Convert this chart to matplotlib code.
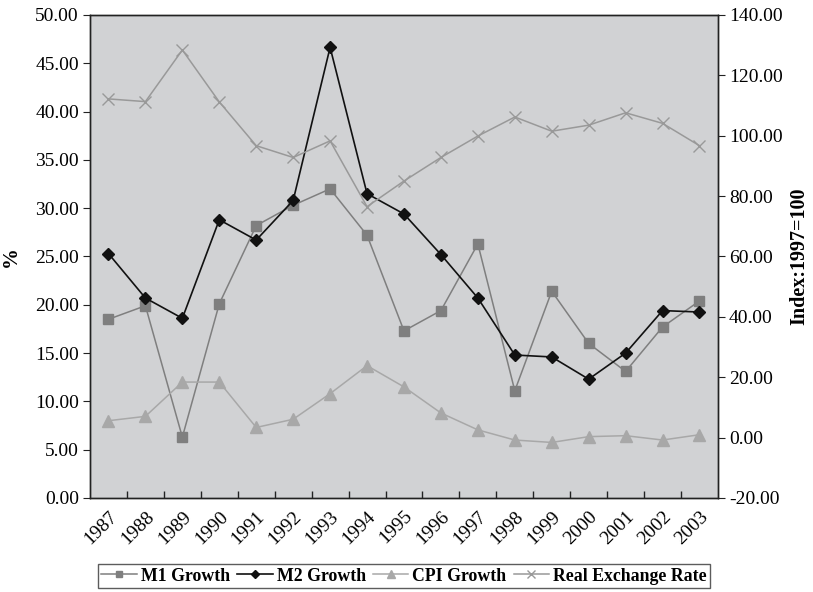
"""Money growth, inflation and real exchange rate, 1987-2003."""

import matplotlib

matplotlib.use("Agg")
import matplotlib.pyplot as plt
from matplotlib.ticker import FixedLocator, FormatStrFormatter

years = ["1987", "1988", "1989", "1990", "1991", "1992", "1993", "1994", "1995",
         "1996", "1997", "1998", "1999", "2000", "2001", "2002", "2003"]
m1_growth = [18.5, 19.9, 6.3, 20.1, 28.2, 30.3, 32.0, 27.2, 17.3,
             19.4, 26.3, 11.1, 21.4, 16.0, 13.1, 17.7, 20.4]
m2_growth = [25.3, 20.7, 18.6, 28.8, 26.7, 30.8, 46.65, 31.5, 29.4,
             25.2, 20.7, 14.8, 14.6, 12.3, 15.0, 19.4, 19.25]
cpi_growth = [8.0, 8.45, 12.0, 12.0, 7.3, 8.15, 10.8, 13.7, 11.5,
              8.8, 7.05, 6.0, 5.75, 6.35, 6.45, 6.0, 6.55]
real_exchange_rate = [112.2, 111.3, 128.4, 111.2, 96.7, 92.8, 98.3, 76.5, 85.0,
                      92.8, 99.9, 106.2, 101.5, 103.5, 107.6, 104.1, 96.7]

plt.rcParams["font.family"] = ["Liberation Serif", "DejaVu Serif"]

fig = plt.figure(figsize=(8.13, 5.92), dpi=100)
ax = fig.add_axes([0.1107, 0.1588, 0.7724, 0.8159])
ax2 = ax.twinx()

x = list(range(len(years)))
ax.set_facecolor("#d1d2d4")

h1, = ax.plot(x, m1_growth, color="#7f7f7f", lw=1.1, marker="s", ms=7,
              mfc="#7f7f7f", mec="#7f7f7f", label="M1 Growth")
h2, = ax.plot(x, m2_growth, color="#111111", lw=1.2, marker="D", ms=6,
              mfc="#111111", mec="#111111", label="M2 Growth")
h3, = ax.plot(x, cpi_growth, color="#a8a8a8", lw=1.1, marker="^", ms=8,
              mfc="#a8a8a8", mec="#a8a8a8", label="CPI Growth")
h4, = ax2.plot(x, real_exchange_rate, color="#999999", lw=1.1, marker="x", ms=9,
               mew=1.0, label="Real Exchange Rate")

ax.set_xlim(-0.5, len(years) - 0.5)
ax.set_ylim(0, 50)
ax2.set_ylim(-20, 140)
ax.set_yticks([0, 5, 10, 15, 20, 25, 30, 35, 40, 45, 50])
ax2.set_yticks([-20, 0, 20, 40, 60, 80, 100, 120, 140])
ax.yaxis.set_major_formatter(FormatStrFormatter("%.2f"))
ax2.yaxis.set_major_formatter(FormatStrFormatter("%.2f"))

ax.set_xticks(x)
ax.set_xticklabels(years, rotation=45, ha="right", rotation_mode="anchor")
ax.xaxis.set_minor_locator(FixedLocator([i + 0.5 for i in x[:-1]]))
ax.tick_params(axis="x", which="major", length=0, pad=7, labelsize=14)
ax.tick_params(axis="x", which="minor", direction="in", length=5, width=1, color="#222222")
ax.tick_params(axis="y", direction="out", length=5, pad=3, labelsize=14, color="#222222")
ax2.tick_params(axis="y", direction="out", length=5, pad=3, labelsize=14, color="#222222")

for a in (ax, ax2):
    for s in a.spines.values():
        s.set_color("#222222")
        s.set_linewidth(1.0)

ax.set_ylabel("%", fontsize=15, fontweight="bold", labelpad=10)
ax2.set_ylabel("Index:1997=100", fontsize=14.5, fontweight="bold", labelpad=5)

leg = fig.legend(handles=[h1, h2, h3, h4], loc="center", bbox_to_anchor=(0.497, 0.027),
                 ncol=4, frameon=True, fancybox=False, edgecolor="#333333",
                 prop={"weight": "bold", "size": 12.8}, handlelength=2.0,
                 handletextpad=0.22, columnspacing=0.4, borderpad=0.2,
                 markerscale=0.7)
leg.get_frame().set_linewidth(1.0)

fig.savefig("out.png", dpi=100)
